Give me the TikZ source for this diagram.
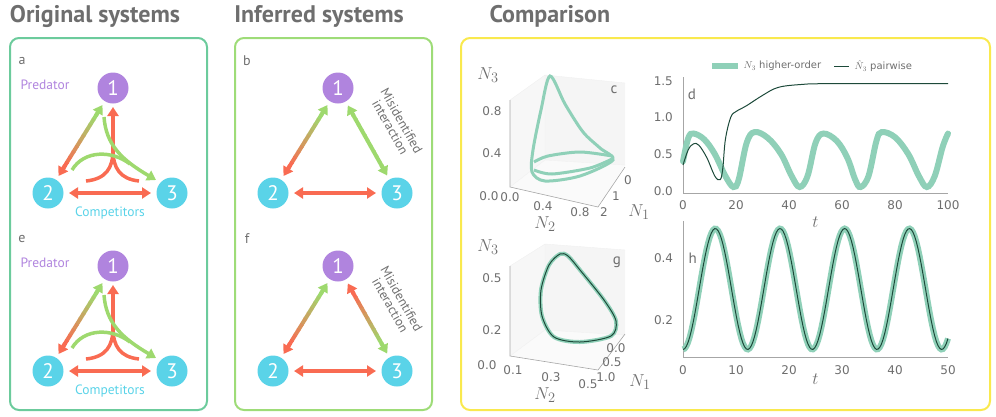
\documentclass[tikz,border=0pt]{standalone}
\usepackage{fontspec}
\setmainfont{PT Sans}
\newfontfamily\mplfont{DejaVu Sans}
\usetikzlibrary{calc,arrows.meta}
\definecolor{predc}{HTML}{B084DE}
\definecolor{compc}{HTML}{5AD3E8}
\definecolor{redc}{HTML}{F96B52}
\definecolor{greenc}{HTML}{9ED96E}
\definecolor{boxA}{HTML}{6CCB9C}
\definecolor{boxB}{HTML}{9EDC78}
\definecolor{boxC}{HTML}{F9E94E}
\definecolor{titlec}{HTML}{6E6E6E}
\definecolor{linec}{HTML}{8FD0B8}
\definecolor{darkc}{HTML}{1D4A3A}
\tikzset{
    species/.style={circle, minimum size=31pt, inner sep=0pt, text=white, font=\fontsize{21}{21}\selectfont},
    panelbox/.style={rounded corners=9pt, line width=2pt},
    heading/.style={text=titlec, font=\fontsize{24}{24}\selectfont\bfseries},
    letter/.style={text=titlec, font=\fontsize{14}{14}\selectfont},
    tip/.style={-{Triangle[length=9pt,width=11pt]}, line width=4pt},
    tick/.style={text=titlec, font=\mplfont\fontsize{12}{12}\selectfont},
    legend/.style={text=titlec, font=\mplfont\fontsize{10}{10}\selectfont},
    axlab/.style={text=titlec, font=\fontsize{19}{19}\selectfont},
    spine/.style={draw=gray!70, line width=0.6pt},
    pane/.style={draw=gray!12, line width=0.4pt}
}
% arrow with a colour gradient: from, to, colour at from, colour at to
\newcommand\gradarrow[4]{%
    \path ($(#1)!20pt!(#2)$) coordinate (ga) ($(#2)!20pt!(#1)$) coordinate (gb);
    \foreach \k in {0,...,9}{
        \pgfmathsetmacro\pa{0.12+\k*0.076}
        \pgfmathsetmacro\pb{0.12+(\k+1)*0.076+0.01}
        \pgfmathsetmacro\pc{100-\k*11.1}
        \draw[line width=4pt, #3!\pc!#4] ($(ga)!\pa!(gb)$) -- ($(ga)!\pb!(gb)$);
    }
    \draw[tip, #3] ($(ga)!0.15!(gb)$) -- (ga);
    \draw[tip, #4] ($(ga)!0.85!(gb)$) -- (gb);
}
\begin{document}
\begin{tikzpicture}[x=1pt, y=-1pt]
    \useasboundingbox (0,0) rectangle (996,416);

    % Titles
    \node[heading] (t1) at (95,16) {Original systems};
    \node[heading] (t2) at (319,16) {Inferred systems};
    \node[heading, anchor=west] (t3) at (486,16) {Comparison};

    % Panel frames
    \draw[panelbox, boxA] (10,38) rectangle (207,410);
    \draw[panelbox, boxB] (235,38) rectangle (432,410);
    \draw[panelbox, boxC] (461,38) rectangle (990,410);

    % Original systems
    \foreach \p/\dy in {a/0, e/178}{
        \node[letter] (\p lab) at (22,61+\dy) {\p};
        \node[species, fill=predc] (\p1) at (113,88+\dy) {1};
        \node[species, fill=compc] (\p2) at (48,193+\dy) {2};
        \node[species, fill=compc] (\p3) at (172,193+\dy) {3};
        \node[text=predc, font=\fontsize{13.5}{14}\selectfont] (\p pred) at (45,85+\dy) {Predator};
        \node[text=compc, font=\fontsize{13.5}{14}\selectfont] (\p comp) at (110,213+\dy) {Competitors};
        \gradarrow{\p1}{\p2}{greenc}{redc}
        \draw[tip, redc, {Triangle[length=9pt,width=11pt]}-{Triangle[length=9pt,width=11pt]}] (\p2) ++(21,0) -- ($(\p3)+(-21,0)$);
        % higher-order interactions
        \coordinate (\p rl) at (86,181+\dy);
        \coordinate (\p rr) at (139,181+\dy);
        \coordinate (\p rm) at (113,150+\dy);
        \coordinate (\p gt) at (104,117+\dy);
        \coordinate (\p gl) at (72,170+\dy);
        \draw[redc, line width=3.5pt] (\p rl) .. controls (106,179+\dy) and (113,168+\dy) .. (\p rm);
        \draw[redc, line width=3.5pt] (\p rr) .. controls (120,179+\dy) and (113,168+\dy) .. (\p rm);
        \draw[tip, line width=3.5pt, redc] (\p rm) -- ($(\p1)+(0,19)$);
        \draw[greenc, line width=3.5pt] (\p gl) .. controls (84,150+\dy) and (112,150+\dy) .. (130,164+\dy);
        \draw[tip, line width=3.5pt, greenc] (\p gt) .. controls (106,145+\dy) and (122,160+\dy) .. ($(\p3)+(-16,-13)$);
    }

    % Inferred systems
    \foreach \p/\dy/\ca/\cb in {b/0/greenc/greenc, f/178/redc/greenc}{
        \node[letter] (\p lab) at (247,61+\dy) {\p};
        \node[species, fill=predc] (\p1) at (338,88+\dy) {1};
        \node[species, fill=compc] (\p2) at (273,193+\dy) {2};
        \node[species, fill=compc] (\p3) at (397,193+\dy) {3};
        \gradarrow{\p1}{\p2}{greenc}{redc}
        \gradarrow{\p1}{\p3}{\ca}{\cb}
        \draw[tip, redc, {Triangle[length=9pt,width=11pt]}-{Triangle[length=9pt,width=11pt]}] (\p2) ++(21,0) -- ($(\p3)+(-21,0)$);
        \node[text=titlec, rotate=-60.5, align=center, font=\fontsize{13}{13}\selectfont] (\p mis) at (396,124+\dy) {Misidentified\\interaction};
    }

    % Panel c: 3D limit cycle
    \fill[gray!6] (510,100) -- (545,75) -- (545,160) -- (510,187) -- cycle;
    \fill[gray!8] (545,75) -- (625,83) -- (625,165) -- (545,160) -- cycle;
    \fill[gray!4] (510,187) -- (545,160) -- (625,165) -- (598,207) -- cycle;
    \draw[pane] (510,100) -- (545,75) -- (625,83) (545,75) -- (545,160) -- (510,187) (545,160) -- (625,165);
    \draw[spine] (510,100) -- (510,187) -- (598,207) -- (625,167);
    \draw[linec, line width=3pt] plot[smooth cycle] coordinates {(550,76) (541,110) (533,150) (532,172) (545,181) (580,176) (613,160) (600,148) (583,132) (565,104)};
    \draw[linec, line width=3pt] plot[smooth] coordinates {(534,162) (548,156) (580,152) (612,156)};
    \draw[linec, line width=3pt] plot[smooth] coordinates {(534,170) (552,174) (590,168) (612,159)};
    \node[letter, font=\fontsize{15}{15}\selectfont] (clab) at (614,90) {c};
    \node[axlab] (cz) at (488,75) {$N_3$};
    \node[tick] (cz1) at (492,111) {0.8};
    \node[tick] (cz2) at (492,153) {0.4};
    \node[tick] (cz3) at (489,196) {0.0};
    \node[tick] (cx1) at (510,197) {0.0};
    \node[tick] (cx2) at (543,206) {0.4};
    \node[tick] (cx3) at (580,212) {0.8};
    \node[axlab] (cx) at (545,224) {$N_2$};
    \node[tick] (cy1) at (604,212) {2};
    \node[tick] (cy2) at (616,196) {1};
    \node[tick] (cy3) at (628,180) {0};
    \node[axlab] (cy) at (639,212) {$N_1$};

    % Panel g: 3D limit cycle, both models
    \fill[gray!6] (510,266) -- (545,244) -- (545,330) -- (510,356) -- cycle;
    \fill[gray!8] (545,244) -- (625,250) -- (625,335) -- (545,330) -- cycle;
    \fill[gray!4] (510,356) -- (545,330) -- (625,335) -- (598,370) -- cycle;
    \draw[pane] (510,266) -- (545,244) -- (625,250) (545,244) -- (545,330) -- (510,356) (545,330) -- (625,335);
    \draw[spine] (510,266) -- (510,356) -- (598,370) -- (625,334);
    \draw[linec, line width=4pt] plot[smooth cycle] coordinates {(560,254) (549,265) (541,290) (542,316) (554,337) (580,342) (611,336) (616,321) (604,300) (580,270) (568,256)};
    \draw[darkc, line width=1pt] plot[smooth cycle] coordinates {(560,254) (549,265) (541,290) (542,316) (554,337) (580,342) (611,336) (616,321) (604,300) (580,270) (568,256)};
    \node[letter, font=\fontsize{15}{15}\selectfont] (glab) at (617,262) {g};
    \node[axlab] (gz) at (488,247) {$N_3$};
    \node[tick] (gz1) at (492,278) {0.5};
    \node[tick] (gz2) at (492,330) {0.2};
    \node[tick] (gz3) at (487,365) {0.0};
    \node[tick] (gx1) at (513,370) {0.1};
    \node[tick] (gx2) at (551,377) {0.3};
    \node[tick] (gx3) at (588,384) {0.5};
    \node[axlab] (gx) at (545,395) {$N_2$};
    \node[tick] (gy1) at (606,377) {1.0};
    \node[tick] (gy2) at (612,362) {0.5};
    \node[tick] (gy3) at (616,348) {0.0};
    \node[axlab] (gy) at (640,382) {$N_1$};

    % Panel d: time series
    \draw[linec, line width=6pt] (712,66) coordinate (l1a) -- (738,66) coordinate (l1b);
    \node[legend, anchor=west] (l1) at (740,66) {$N_3$ higher-order};
    \draw[darkc, line width=1pt] (834,66) coordinate (l2a) -- (849,66) coordinate (l2b);
    \node[legend, anchor=west] (l2) at (851,66) {$\hat{N}_3$ pairwise};
    \begin{scope}[shift={(683,190.7)}, x=2.65pt, y=73.3pt]
        \draw[spine] (0,1.55) -- (0,-0.04) -- (100,-0.04);
        \foreach \v in {0.0,0.5,1.0,1.5}
            \node[tick, anchor=east] at (-2.5,\v) {\v};
        \foreach \t in {0,20,...,100}
            \node[tick, anchor=north] at (\t,-0.08) {\t};
        \node[axlab] (dt) at (50,-0.43) {$t$};
        \node[letter, font=\fontsize{15}{15}\selectfont, anchor=west] (dlab) at (0.5,1.32) {d};
        \draw[linec, line width=6pt, line cap=round] plot[smooth, tension=0.6] coordinates {(0,0.4) (2,0.72) (4,0.78) (8,0.7) (12,0.5) (16,0.2) (19,0.05) (21,0.15) (24,0.65) (27,0.8) (32,0.72) (37,0.5) (41,0.2) (44,0.05) (47,0.2) (50,0.65) (53,0.78) (58,0.68) (62,0.45) (65,0.15) (67,0.05) (70,0.2) (73,0.68) (75,0.8) (80,0.73) (85,0.5) (89,0.2) (92,0.05) (95,0.2) (98,0.6) (100,0.78)};
        \draw[darkc, line width=1pt] plot[smooth, tension=0.6] coordinates {(0,0.35) (2,0.56) (4,0.64) (6,0.62) (9,0.45) (12,0.2) (14,0.15) (15,0.3) (16,0.7) (18,1.0) (20,1.08) (24,1.16) (30,1.3) (36,1.41) (45,1.45) (55,1.46) (100,1.46)};
    \end{scope}

    % Panel h: time series
    \begin{scope}[shift={(683,382)}, x=5.3pt, y=310pt]
        \draw[spine] (0,0.52) -- (0,0.08) -- (50,0.08);
        \foreach \v in {0.2,0.4}
            \node[tick, anchor=east] at (-1.2,\v) {\v};
        \foreach \t in {0,10,...,50}
            \node[tick, anchor=north] at (\t,0.065) {\t};
        \node[axlab] (ht) at (25,0.01) {$t$};
        \node[letter, font=\fontsize{15}{15}\selectfont, anchor=west] (hlab) at (0.4,0.4) {h};
        \draw[linec, line width=6pt] plot[domain=0:50, samples=160] (\x,{0.3-0.195*cos(29.5*\x)});
        \draw[darkc, line width=1pt] plot[domain=0:50, samples=160] (\x,{0.3-0.195*cos(29.5*\x)});
    \end{scope}
\end{tikzpicture}
\end{document}
